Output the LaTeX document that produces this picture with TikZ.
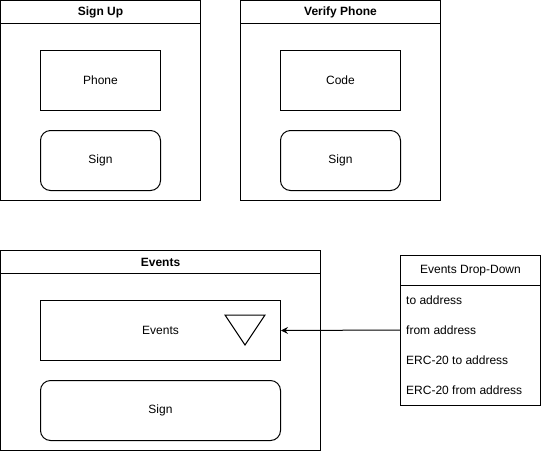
\documentclass[tikz,border=0pt]{standalone}
\usepackage{fontspec}
\setmainfont{Liberation Sans}
\usepackage{tikz}
\usetikzlibrary{arrows.meta,positioning,calc}
\tikzset{
  >={Stealth[length=7pt,width=7pt,inset=2.5pt]},
  % skärmar
  pane/.style={draw,line width=1pt,inner sep=0pt,anchor=north west,
               font=\fontsize{12pt}{14pt}\selectfont},
  panehd/.style={pane,anchor=north,font=\fontsize{12pt}{14pt}\selectfont\bfseries},
  field/.style={pane,minimum width=120pt,minimum height=60pt},
  btn/.style={field,rounded corners=10pt},
  % lista
  ddhd/.style={pane,minimum width=140pt,minimum height=30pt},
  dditem/.style={inner sep=0pt,anchor=west,minimum height=30pt,
                 font=\fontsize{12pt}{14pt}\selectfont},
  link/.style={->,draw=black,line width=1pt},
}
\begin{document}
\begin{tikzpicture}[x=1pt,y=-1pt]
\useasboundingbox (0,0) rectangle (541,451);
  % Sign Up
  \node[pane,minimum width=200pt,minimum height=200pt] (signup) at (0,0) {};
  \node[panehd,minimum width=200pt,minimum height=23pt] (signuphd) at (signup.north) {Sign Up};
  \node[field] (phone) at (40,50) {Phone};
  \node[btn] (signa) at (40,130) {Sign};
  % Verify Phone
  \node[pane,minimum width=200pt,minimum height=200pt] (verify) at (240,0) {};
  \node[panehd,minimum width=200pt,minimum height=23pt] (verifyhd) at (verify.north) {Verify Phone};
  \node[field] (code) at (280,50) {Code};
  \node[btn] (signb) at (280,130) {Sign};
  % Events
  \node[pane,minimum width=320pt,minimum height=200pt] (events) at (0,250) {};
  \node[panehd,minimum width=320pt,minimum height=23pt] (eventshd) at (events.north) {Events};
  \node[field,minimum width=240pt] (evbox) at (40,300) {Events};
  \draw[line width=1pt] (225,315) -- (265,315) -- (245,345) -- cycle;
  \node[btn,minimum width=240pt] (signc) at (40,380) {Sign};
  % Drop-down
  \node[pane,minimum width=140pt,minimum height=150pt] (dd) at (400,255) {};
  \node[ddhd] (ddhd) at (400,255) {Events Drop-Down};
  \node[dditem] (to) at (406,300) {to address};
  \node[dditem] (from) at (406,330) {from address};
  \node[dditem] (ercto) at (406,360) {ERC-20 to address};
  \node[dditem] (ercfrom) at (406,390) {ERC-20 from address};
  \draw[link] (dd.west |- from.west) -- (evbox.east);
\end{tikzpicture}
\end{document}
